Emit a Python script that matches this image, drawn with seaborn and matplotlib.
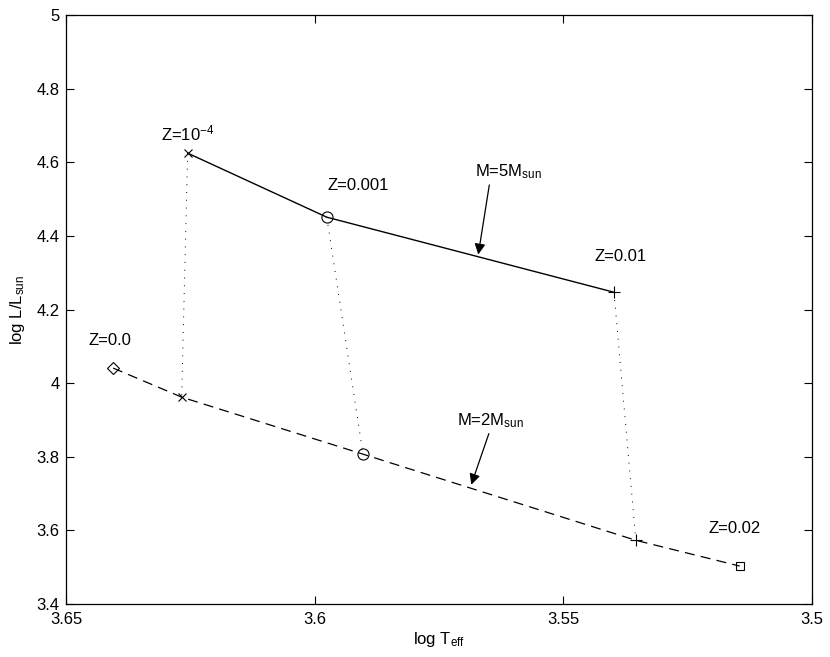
import numpy as np
import pandas as pd
import matplotlib
matplotlib.use("Agg")
import matplotlib.pyplot as plt
import seaborn as sns

# Tracks for the two masses (log Teff, log L/Lsun) at each metallicity
z_labels_5 = ["1e-4", "0.001", "0.01"]
logT_5 = [3.6256, 3.5976, 3.5398]
logL_5 = [4.625, 4.451, 4.247]

z_labels_2 = ["0.0", "1e-4", "0.001", "0.01", "0.02"]
logT_2 = [3.6406, 3.6268, 3.5903, 3.5354, 3.5145]
logL_2 = [4.041, 3.962, 3.807, 3.573, 3.503]

markers_5 = ["x", "o", "+"]
markers_2 = ["D", "x", "o", "+", "s"]

# Z labels
label_text = [r"Z=10$^{-4}$", "Z=0.001", "Z=0.01", "Z=0.0", "Z=0.02"]
label_x = [3.6256, 3.5913, 3.5385, 3.6413, 3.5155]
label_y = [4.679, 4.538, 4.345, 4.117, 3.606]

sns.set_style("ticks")
plt.rcParams['font.family'] = ['Liberation Sans', 'DejaVu Sans']
plt.rcParams['mathtext.fontset'] = 'custom'
plt.rcParams['mathtext.rm'] = 'Liberation Sans'
plt.rcParams['mathtext.it'] = 'Liberation Sans'
for k in ["text.color", "axes.labelcolor", "xtick.color", "ytick.color"]:
    plt.rcParams[k] = "black"

fig = plt.figure(figsize=(8.3, 6.57), dpi=100)
ax = fig.add_axes([0.080, 0.0807, 0.898, 0.8963])

df5 = pd.DataFrame({"T": logT_5, "L": logL_5})
df2 = pd.DataFrame({"T": logT_2, "L": logL_2})

sns.lineplot(data=df5, x="T", y="L", sort=False, color="black", lw=1.0, ax=ax)
sns.lineplot(data=df2, x="T", y="L", sort=False, color="black", lw=0.9, ax=ax,
             dashes=False, linestyle=(0, (8, 5)))

# dotted connectors between same Z on both tracks
for i in range(3):
    seg = pd.DataFrame({"T": [logT_5[i], logT_2[i + 1]], "L": [logL_5[i], logL_2[i + 1]]})
    sns.lineplot(data=seg, x="T", y="L", sort=False, color="black", lw=0.7,
                 linestyle=(0, (1, 7)), ax=ax)

msize = {"x": 6, "o": 8, "+": 8, "D": 6, "s": 6}
for t, l, m in zip(logT_5, logL_5, markers_5):
    ax.plot(t, l, marker=m, ms=msize[m], mfc="none", mec="black", mew=0.8, ls="none")
for t, l, m in zip(logT_2, logL_2, markers_2):
    ax.plot(t, l, marker=m, ms=msize[m], mfc="none", mec="black", mew=0.8, ls="none")

for txt, x, y in zip(label_text, label_x, label_y):
    ax.text(x, y, txt, ha="center", va="center", fontsize=12)

ax.annotate("", xy=(3.5672, 4.342), xytext=(3.5648, 4.546),
            arrowprops=dict(arrowstyle="-|>", color="black", lw=0.9, mutation_scale=16))
ax.text(3.5611, 4.576, r"M=5M$_{\rm sun}$", ha="center", va="center", fontsize=12)
ax.annotate("", xy=(3.5687, 3.717), xytext=(3.5648, 3.870),
            arrowprops=dict(arrowstyle="-|>", color="black", lw=0.9, mutation_scale=16))
ax.text(3.5646, 3.899, r"M=2M$_{\rm sun}$", ha="center", va="center", fontsize=12)

ax.set_xlim(3.65, 3.5)
ax.set_ylim(3.4, 5.0)
ax.set_xticks([3.65, 3.6, 3.55, 3.5])
ax.set_xticklabels(["3.65", "3.6", "3.55", "3.5"])
ax.set_yticks([3.4, 3.6, 3.8, 4.0, 4.2, 4.4, 4.6, 4.8, 5.0])
ax.set_yticklabels(["3.4", "3.6", "3.8", "4", "4.2", "4.4", "4.6", "4.8", "5"])
ax.tick_params(direction="in", length=6, width=0.8, top=True, right=True, labelsize=12)
ax.tick_params(axis="x", pad=6)
ax.tick_params(axis="y", pad=5)
for s in ax.spines.values():
    s.set_linewidth(0.9)
    s.set_color("black")

ax.set_xlabel(r"log T$_{\rm eff}$", fontsize=12, labelpad=2)
ax.set_ylabel(r"log L/L$_{\rm sun}$", fontsize=12, labelpad=7)

fig.savefig("out.png", dpi=100)
